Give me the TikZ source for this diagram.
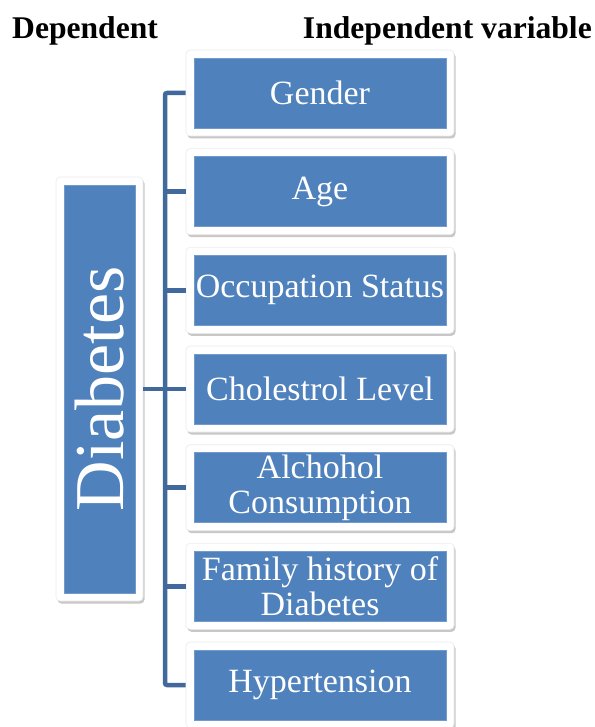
\documentclass[tikz,border=0pt]{standalone}
\usepackage{fontspec}
\setmainfont{Liberation Serif}
\usetikzlibrary{shadows}
\definecolor{boxblue}{HTML}{4F81BD}
\definecolor{linkblue}{HTML}{41699B}
\tikzset{
  framebox/.style={draw=black!8, line width=0.6pt, fill=white, rounded corners=4pt,
    minimum width=268pt, minimum height=86pt, inner sep=0pt,
    drop shadow={shadow xshift=1.5pt, shadow yshift=-2.5pt, opacity=0.22, fill=black}},
  bluebox/.style={draw=boxblue!80!white, line width=0.5pt, fill=boxblue, text=white,
    minimum width=252pt, minimum height=70pt, inner sep=0pt, align=center,
    font=\fontsize{34}{35}\selectfont},
  dframe/.style={draw=black!8, line width=0.6pt, fill=white, rounded corners=4pt,
    minimum width=87pt, minimum height=424pt, inner sep=0pt,
    drop shadow={shadow xshift=1.5pt, shadow yshift=-2.5pt, opacity=0.22, fill=black}},
  dblue/.style={draw=boxblue!80!white, line width=0.5pt, fill=boxblue, text=white,
    minimum width=71pt, minimum height=408pt, inner sep=0pt},
  link/.style={draw=linkblue, line width=4.5pt},
  header/.style={font=\bfseries\fontsize{31.6}{34}\selectfont, inner sep=0pt}
}
\begin{document}
\begin{tikzpicture}[x=1pt,y=-1pt]
\useasboundingbox (0,0) rectangle (594,727);
\node[header, anchor=base west] (hdep) at (12,39) {Dependent};
\node[header, anchor=base east] (hind) at (592,39) {Independent variable};

% Diabetes
\node[dframe] (df) at (99.5,389) {};
\node[dblue] (db) at (99.5,389) {};
\node[rotate=90, text=white, inner sep=0pt, font=\fontsize{70}{72}\selectfont] (dt) at (99.5,389) {Diabetes};

% right boxes
\foreach \i/\y/\t in {1/93/Gender, 2/191.7/Age, 3/290.3/Occupation Status, 4/389/Cholestrol Level,
  5/487.7/{Alchohol\\Consumption}, 6/586.3/{Family history of\\Diabetes}, 7/685/Hypertension}{
  \node[framebox] (f\i) at (320,\y) {};
  \node[bluebox] (b\i) at (320,\y) {\t};
}

% connectors
\coordinate (bt) at (165,93);
\coordinate (bb) at (165,685);
\coordinate (bm) at (165,389);
\draw[link, rounded corners=2pt] (f1.west) -- (bt) -- (bb) -- (f7.west);
\draw[link] (df.east) -- (bm);
\foreach \i/\y in {2/191.7,3/290.3,4/389,5/487.7,6/586.3}{
  \draw[link] (165,\y) -- (f\i.west);
}
\end{tikzpicture}
\end{document}
